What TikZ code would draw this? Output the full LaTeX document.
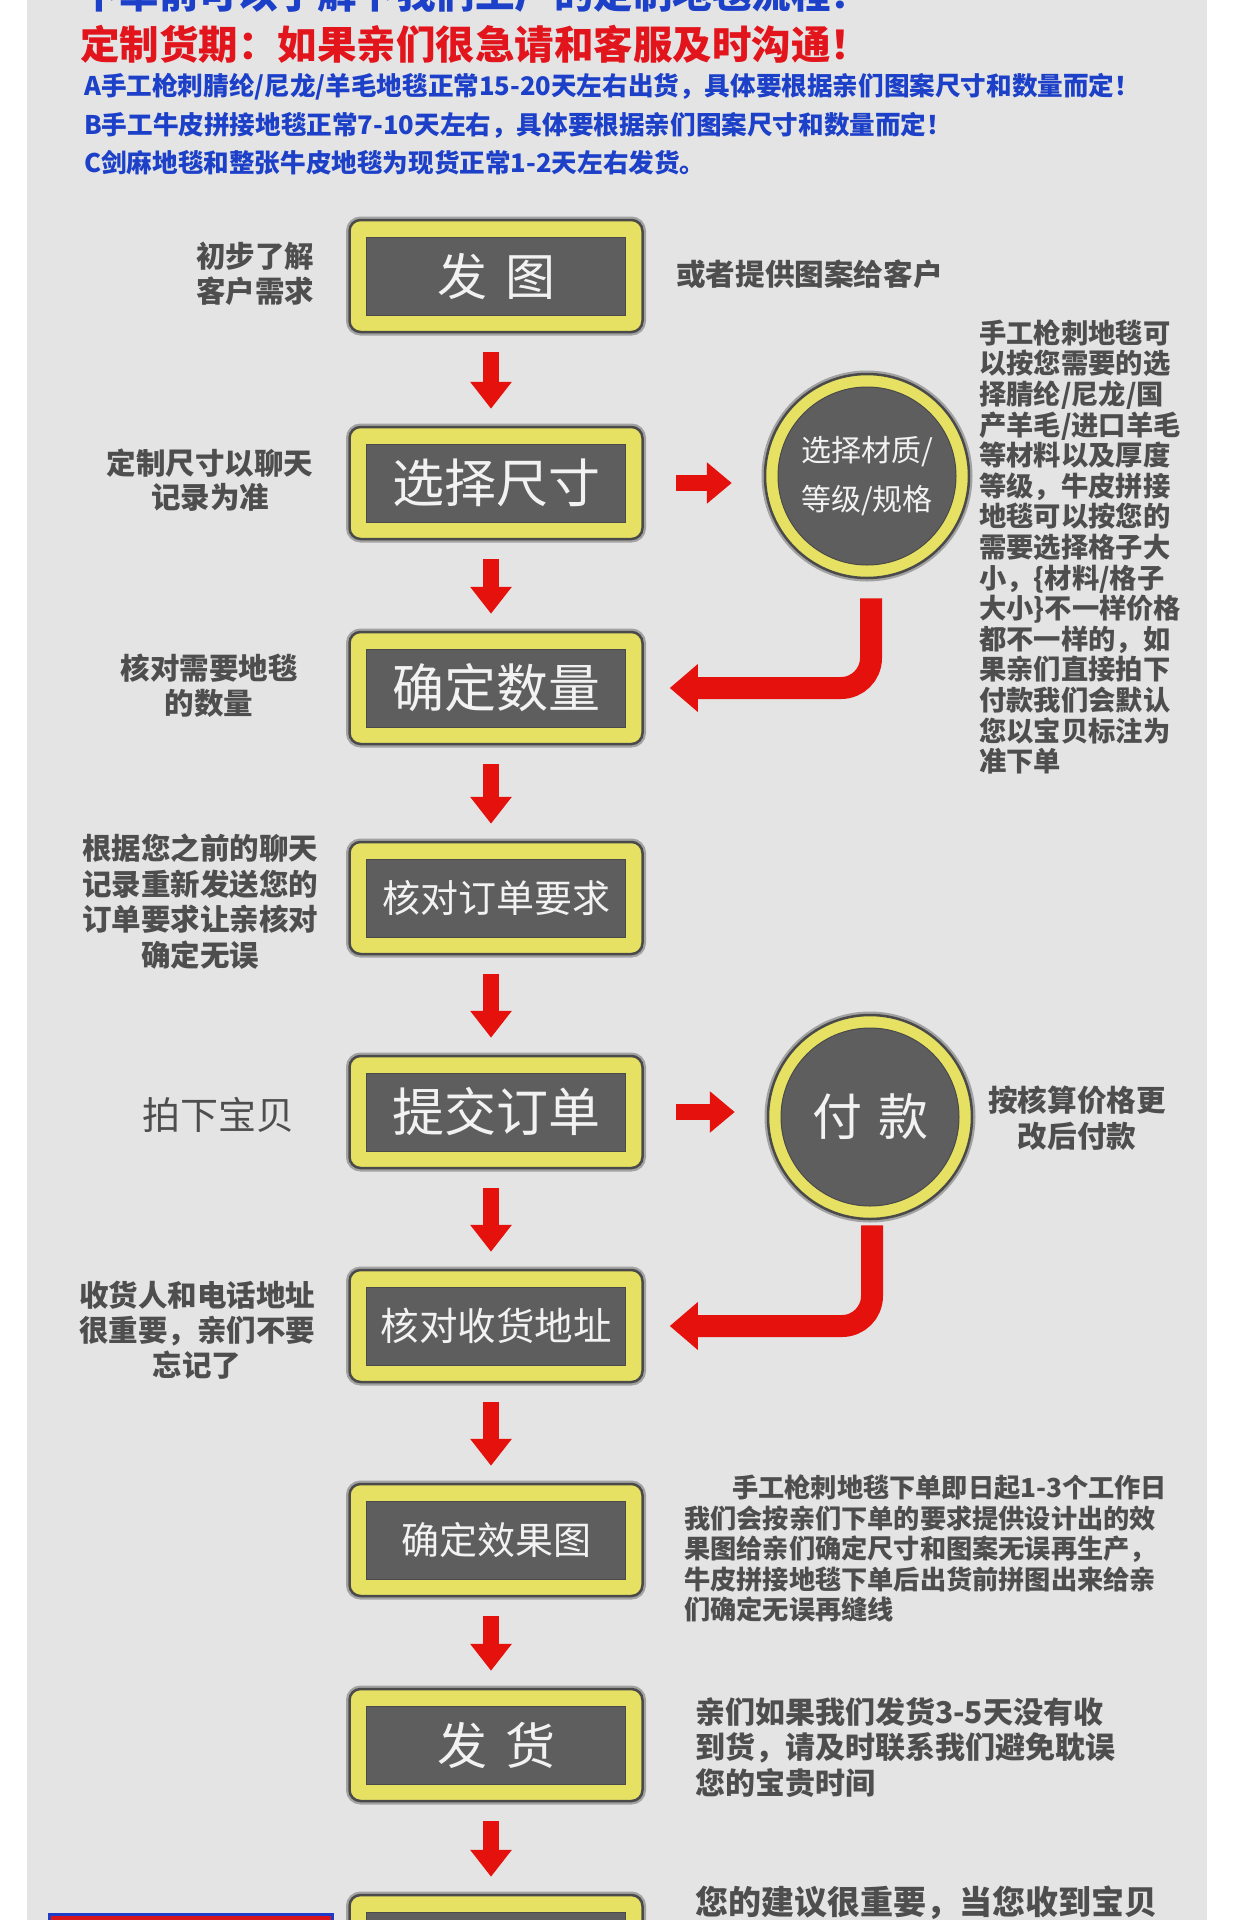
\documentclass[tikz,border=0pt]{standalone}
\usepackage{fontspec}
\setmainfont{Noto Sans CJK SC}
\usetikzlibrary{arrows.meta}
\definecolor{panel}{HTML}{E4E4E4}
\definecolor{ybox}{HTML}{E6E063}
\definecolor{dbox}{HTML}{5E5E5E}
\definecolor{edge}{HTML}{4A4A4A}
\definecolor{halo}{HTML}{A2A2A2}
\definecolor{arrred}{HTML}{E5110C}
\definecolor{hblue}{HTML}{1D40C9}
\definecolor{hred}{HTML}{E2141C}
\definecolor{tgray}{HTML}{4E4E4E}
\definecolor{boxtext}{HTML}{F2F2F2}
\definecolor{banred}{HTML}{D8141C}
\definecolor{banblue}{HTML}{1E3CC8}
\begin{document}
\begin{tikzpicture}[x=1pt,y=-1pt,
  stepbox/.style={rectangle, rounded corners=11pt, fill=ybox, draw=edge, line width=2.5pt,
    minimum width=293pt, minimum height=112pt, inner sep=0pt, text=boxtext,
    preaction={draw=halo, line width=7pt},
    path picture={\fill[dbox, sharp corners] ([shift={(17pt,17pt)}]path picture bounding box.south west) rectangle ([shift={(-17pt,-17pt)}]path picture bounding box.north east);
      \draw[edge, sharp corners, line width=1pt] ([shift={(17pt,17pt)}]path picture bounding box.south west) rectangle ([shift={(-17pt,-17pt)}]path picture bounding box.north east);}},
  stepcirc/.style={circle, fill=ybox, draw=edge, line width=2.5pt, minimum size=204pt,
    inner sep=0pt, text=boxtext, align=center,
    preaction={draw=halo, line width=7pt},
    path picture={\fill[dbox] (path picture bounding box.center) circle (89pt);
      \draw[edge, line width=1pt] (path picture bounding box.center) circle (89pt);}},
  downarr/.style={arrred, line width=16pt, -{Triangle[width=40pt,length=27pt]}, shorten <=19pt, shorten >=17pt},
  rightarr/.style={arrred, line width=16pt, -{Triangle[width=40pt,length=25pt]}, shorten <=32pt, shorten >=32pt},
  larr/.style={arrred, line width=22pt, rounded corners=30pt, -{Triangle[width=46pt,length=28pt]}, shorten >=26pt},
  sidetext/.style={text=tgray, inner sep=0pt, align=center},
]
\useasboundingbox (0,0) rectangle (1240,1920);
\fill[white] (0,0) rectangle (1240,1920);
\fill[panel] (27,0) rectangle (1207,1920);

% header
\node[anchor=west, inner sep=0pt, text=hblue, font=\fontsize{39.5}{42}\selectfont\bfseries] (h0) at (80,-7) {下单前可以了解下我们工厂的定制地毯流程！};
\node[anchor=west, inner sep=0pt, text=hred, font=\fontsize{39.5}{42}\selectfont\bfseries] (h1) at (80,44) {定制货期：如果亲们很急请和客服及时沟通！};
\node[anchor=west, inner sep=0pt, text=hblue, font=\fontsize{25.6}{30}\selectfont\bfseries] (h2) at (84,87) {A手工枪刺腈纶/尼龙/羊毛地毯正常15-20天左右出货，具体要根据亲们图案尺寸和数量而定！};
\node[anchor=west, inner sep=0pt, text=hblue, font=\fontsize{25.6}{30}\selectfont\bfseries] (h3) at (84,125) {B手工牛皮拼接地毯正常7-10天左右，具体要根据亲们图案尺寸和数量而定！};
\node[anchor=west, inner sep=0pt, text=hblue, font=\fontsize{25.6}{30}\selectfont\bfseries] (h4) at (84,163) {C剑麻地毯和整张牛皮地毯为现货正常1-2天左右发货。};

% main boxes
\node[stepbox, font=\fontsize{50}{60}\selectfont] (b1) at (496,276) {发\hspace{18pt}图};
\node[stepbox, font=\fontsize{52}{60}\selectfont] (b2) at (496,483) {选择尺寸};
\node[stepbox, font=\fontsize{52}{60}\selectfont] (b3) at (496,688) {确定数量};
\node[stepbox, font=\fontsize{38}{45}\selectfont] (b4) at (496,898) {核对订单要求};
\node[stepbox, font=\fontsize{52}{60}\selectfont] (b5) at (496,1112) {提交订单};
\node[stepbox, font=\fontsize{38.5}{45}\selectfont] (b6) at (496,1326) {核对收货地址};
\node[stepbox, font=\fontsize{38}{45}\selectfont] (b7) at (496,1540) {确定效果图};
\node[stepbox, font=\fontsize{50}{60}\selectfont] (b8) at (496,1745) {发\hspace{18pt}货};
\node[stepbox] (b9) at (496,1951) {};

% circles
\node[stepcirc, font=\fontsize{30}{49}\selectfont] (c1) at (867,476) {选择材质/\\等级/规格};
\node[stepcirc, font=\fontsize{50}{55}\selectfont] (c2) at (870,1117) {付\hspace{16pt}款};

% bottom banner
\node[rectangle, fill=banred, draw=banblue, line width=3pt, minimum width=283pt, minimum height=50pt, inner sep=0pt, anchor=north west] (ban) at (48,1913) {};

% down arrows
\draw[downarr] ([xshift=-5pt]b1.south) -- ([xshift=-5pt]b2.north);
\draw[downarr] ([xshift=-5pt]b2.south) -- ([xshift=-5pt]b3.north);
\draw[downarr] ([xshift=-5pt]b3.south) -- ([xshift=-5pt]b4.north);
\draw[downarr] ([xshift=-5pt]b4.south) -- ([xshift=-5pt]b5.north);
\draw[downarr] ([xshift=-5pt]b5.south) -- ([xshift=-5pt]b6.north);
\draw[downarr] ([xshift=-5pt]b6.south) -- ([xshift=-5pt]b7.north);
\draw[downarr] ([xshift=-5pt]b7.south) -- ([xshift=-5pt]b8.north);
\draw[downarr] ([xshift=-5pt]b8.south) -- ([xshift=-5pt]b9.north);

% right arrows
\draw[rightarr] (b2.east) -- (b2.east -| c1.west);
\draw[rightarr] (b5.east) -- (b5.east -| c2.west);

% return arrows
\draw[larr, shorten <=19pt] ([xshift=4pt]c1.south) |- (b3.east);
\draw[larr, shorten <=5pt] ([xshift=2pt]c2.south) |- (b6.east);

% left texts
\node[sidetext, font=\fontsize{29.5}{35}\selectfont\bfseries] (t1) at (255,273.5) {初步了解\\客户需求};
\node[sidetext, font=\fontsize{29.5}{34}\selectfont\bfseries] (t2) at (210,480) {定制尺寸以聊天\\记录为准};
\node[sidetext, font=\fontsize{29.5}{35}\selectfont\bfseries] (t3) at (209,685.5) {核对需要地毯\\的数量};
\node[sidetext, font=\fontsize{29.5}{35.7}\selectfont\bfseries] (t4) at (200,901.5) {根据您之前的聊天\\记录重新发送您的\\订单要求让亲核对\\确定无误};
\node[sidetext, font=\fontsize{38}{45}\selectfont] (t5) at (218,1115) {拍下宝贝};
\node[sidetext, font=\fontsize{29.5}{35}\selectfont\bfseries] (t6) at (197,1330) {收货人和电话地址\\很重要，亲们不要\\忘记了};

% right texts
\node[sidetext, anchor=west, font=\fontsize{29.6}{35}\selectfont\bfseries] (r1) at (676,274) {或者提供图案给客户};
\node[sidetext, anchor=west, align=left, font=\fontsize{27.3}{30.6}\selectfont\bfseries] (r2) at (979,547) {手工枪刺地毯可\\以按您需要的选\\择腈纶/尼龙/国\\产羊毛/进口羊毛\\等材料以及厚度\\等级，牛皮拼接\\地毯可以按您的\\需要选择格子大\\小，\{材料/格子\\大小\}不一样价格\\都不一样的，如\\果亲们直接拍下\\付款我们会默认\\您以宝贝标注为\\准下单};
\node[sidetext, font=\fontsize{29.6}{36}\selectfont\bfseries] (r3) at (1077,1118) {按核算价格更\\改后付款};
\node[sidetext, anchor=west, align=left, font=\fontsize{26.2}{30.6}\selectfont\bfseries] (r4) at (684,1548.5) {\hspace*{48pt}手工枪刺地毯下单即日起1-3个工作日\\我们会按亲们下单的要求提供设计出的效\\果图给亲们确定尺寸和图案无误再生产，\\牛皮拼接地毯下单后出货前拼图出来给亲\\们确定无误再缝线};
\node[sidetext, anchor=west, align=left, font=\fontsize{30}{35.5}\selectfont\bfseries] (r5) at (695,1747.5) {亲们如果我们发货3-5天没有收\\到货，请及时联系我们避免耽误\\您的宝贵时间};
\node[sidetext, anchor=west, font=\fontsize{33}{40}\selectfont\bfseries] (r6) at (695,1903) {您的建议很重要，当您收到宝贝};
\end{tikzpicture}
\end{document}
